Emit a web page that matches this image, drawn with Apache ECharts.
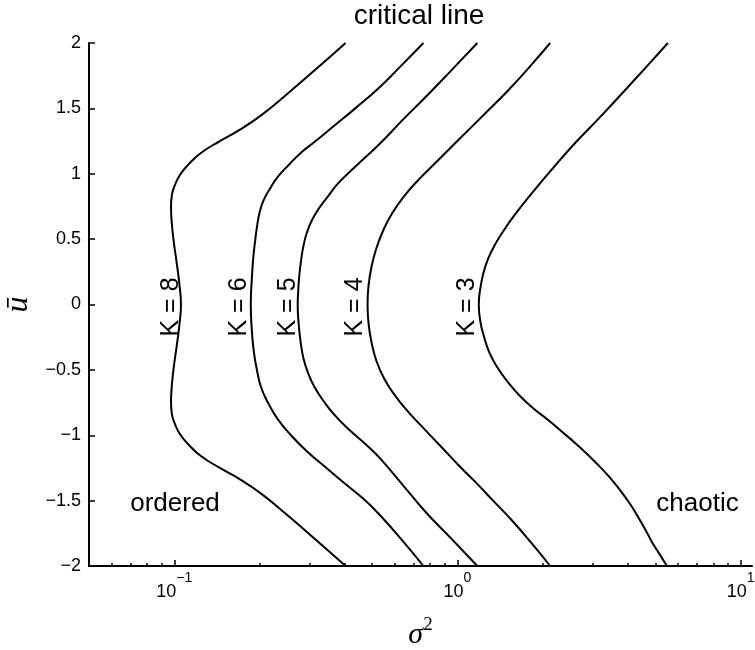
<!DOCTYPE html>
<html>
<head>
<meta charset="utf-8">
<script src="https://cdn.jsdelivr.net/npm/echarts@6/dist/echarts.min.js"></script>
<style>
  html, body { margin: 0; padding: 0; background: #fff; }
  #chart { width: 755px; height: 650px; }
</style>
</head>
<body>
<div id="chart"></div>
<script>
// Critical lines [sigma^2, u-bar] for each connectivity K, from u = 2 down to u = -2
const curveK8 = [
  [0.4027, 2.0], [0.3131, 1.791], [0.2475, 1.601], [0.2053, 1.456], [0.1718, 1.341],
  [0.1449, 1.250], [0.1242, 1.159], [0.1118, 1.067], [0.1047, 0.991], [0.1006, 0.915],
  [0.0981, 0.838], [0.0974, 0.747], [0.0978, 0.648], [0.0994, 0.495], [0.1022, 0.305],
  [0.1043, 0.152], [0.1056, 0],
  [0.1043, -0.152], [0.1022, -0.305], [0.0994, -0.495], [0.0978, -0.648], [0.0974, -0.747],
  [0.0981, -0.838], [0.1006, -0.915], [0.1047, -0.991], [0.1118, -1.067], [0.1242, -1.159],
  [0.1449, -1.250], [0.1718, -1.341], [0.2053, -1.456], [0.2475, -1.601], [0.3131, -1.791],
  [0.4027, -2.0]
];
const curveK6 = [
  [0.758, 2.0], [0.6342, 1.829], [0.5263, 1.654], [0.4366, 1.502], [0.3624, 1.357],
  [0.3157, 1.250], [0.2795, 1.159], [0.2536, 1.067], [0.2319, 0.976], [0.2174, 0.884],
  [0.2070, 0.800], [0.2004, 0.709], [0.1964, 0.610], [0.1932, 0.495], [0.1901, 0.358],
  [0.1878, 0.191], [0.1863, 0],
  [0.1878, -0.191], [0.1909, -0.358], [0.1956, -0.495], [0.2020, -0.625], [0.2138, -0.747],
  [0.2319, -0.877], [0.2598, -1.006], [0.2958, -1.128], [0.3479, -1.258], [0.4093, -1.387],
  [0.4697, -1.494], [0.5349, -1.616], [0.6393, -1.806], [0.758, -2.0]
];
const curveK5 = [
  [1.175, 2.0], [0.9513, 1.791], [0.7703, 1.585], [0.6393, 1.410], [0.5349, 1.235],
  [0.4697, 1.120], [0.4194, 1.021], [0.3773, 0.922], [0.3479, 0.823], [0.3235, 0.732],
  [0.3068, 0.648], [0.2946, 0.556], [0.2864, 0.457], [0.2806, 0.343], [0.2761, 0.213],
  [0.2739, 0.099], [0.2728, 0],
  [0.2750, -0.152], [0.2795, -0.290], [0.2864, -0.419], [0.2982, -0.534], [0.3131, -0.633],
  [0.3368, -0.739], [0.3713, -0.854], [0.4194, -0.968], [0.4813, -1.082], [0.5349, -1.181],
  [0.6445, -1.387], [0.7703, -1.585], [0.9513, -1.791], [1.175, -2.0]
];
const curveK4 = [
  [2.124, 2.0], [1.791, 1.814], [1.511, 1.639], [1.234, 1.448], [1.007, 1.258],
  [0.856, 1.105], [0.7279, 0.953], [0.6497, 0.831], [0.5894, 0.701], [0.5481, 0.572],
  [0.5178, 0.434], [0.4972, 0.290], [0.4852, 0.145], [0.4813, 0],
  [0.4852, -0.145], [0.4972, -0.290], [0.5178, -0.434], [0.5525, -0.572], [0.6040, -0.701],
  [0.6711, -0.823], [0.7641, -0.953], [0.8772, -1.090], [1.007, -1.227], [1.156, -1.357],
  [1.338, -1.502], [1.561, -1.654], [1.820, -1.822], [2.124, -2.0]
];
const curveK3 = [
  [5.532, 2.0], [4.627, 1.814], [3.902, 1.639], [3.187, 1.433], [2.602, 1.235],
  [2.176, 1.044], [1.835, 0.854], [1.612, 0.701], [1.439, 0.549], [1.327, 0.419],
  [1.253, 0.290], [1.209, 0.145], [1.189, 0],
  [1.204, -0.130], [1.243, -0.252], [1.295, -0.366], [1.382, -0.480], [1.498, -0.587],
  [1.652, -0.694], [1.850, -0.793], [2.090, -0.884], [2.322, -0.968], [2.602, -1.059],
  [2.891, -1.151], [3.187, -1.242], [3.483, -1.334], [3.777, -1.429], [4.063, -1.524],
  [4.336, -1.623], [4.627, -1.730], [4.898, -1.829], [5.183, -1.913], [5.488, -2.0]
];
const curves = [curveK8, curveK6, curveK5, curveK4, curveK3];
const curveNames = ['K = 8', 'K = 6', 'K = 5', 'K = 4', 'K = 3'];

// Axes
const sigmaMin = 0.05;
const sigmaMax = 10.96;
const majorTicks = [0.1, 1, 10];
const minorTicks = [0.06, 0.07, 0.08, 0.09, 0.2, 0.3, 0.4, 0.5, 0.6, 0.7, 0.8, 0.9,
                    2, 3, 4, 5, 6, 7, 8, 9];
const uMin = -2, uMax = 2, uStep = 0.5;

const SANS = '"Liberation Sans", Arial, Helvetica, sans-serif';
const SERIF = '"Liberation Serif", "Times New Roman", serif';
const lg = Math.log10;
const fmtMinus = s => s.replace('-', '\u2212');

const chart = echarts.init(document.getElementById('chart'), null, { renderer: 'canvas' });

// positions of the K annotations, beside each curve's turning point
const kLabelPos = [[171, 307], [239, 307], [288, 307], [355, 307], [467, 307]];

const option = {
  backgroundColor: '#fff',
  animation: false,
  grid: { left: 89, right: 3, top: 43, bottom: 84, outerBoundsMode: 'none' },
  xAxis: [
    {
      type: 'value',
      min: lg(sigmaMin),
      max: lg(sigmaMax),
      position: 'bottom',
      splitLine: { show: false },
      axisLine: { onZero: false, lineStyle: { color: '#000', width: 2 } },
      axisTick: { inside: true, length: 6, customValues: majorTicks.map(lg),
                  lineStyle: { color: '#000', width: 1.5 } },
      axisLabel: {
        customValues: majorTicks.map(lg),
        margin: 5,
        formatter: v => '{b|10}{s|' + fmtMinus(String(Math.round(v))) + '}',
        rich: {
          b: { fontFamily: SANS, fontSize: 18, color: '#000', lineHeight: 30, verticalAlign: 'bottom' },
          s: { fontFamily: SANS, fontSize: 14, color: '#000', lineHeight: 14, verticalAlign: 'top' }
        }
      },
      name: '{i|\u03c3}{p|2}',
      nameLocation: 'middle',
      nameGap: 50,
      nameTextStyle: {
        rich: {
          i: { fontFamily: SERIF, fontStyle: 'italic', fontSize: 30, color: '#000', lineHeight: 34, verticalAlign: 'bottom' },
          p: { fontFamily: SERIF, fontSize: 19, color: '#000', lineHeight: 18, verticalAlign: 'top' }
        }
      }
    },
    {
      type: 'value',
      min: lg(sigmaMin),
      max: lg(sigmaMax),
      position: 'bottom',
      splitLine: { show: false },
      axisLine: { show: false, onZero: false },
      axisTick: { inside: true, length: 3, customValues: minorTicks.map(lg),
                  lineStyle: { color: '#000', width: 1.5 } },
      axisLabel: { show: false }
    }
  ],
  yAxis: {
    type: 'value',
    min: uMin,
    max: uMax,
    interval: uStep,
    splitLine: { show: false },
    axisLine: { onZero: false, lineStyle: { color: '#000', width: 2 } },
    axisTick: { inside: true, length: 6, lineStyle: { color: '#000', width: 1.5 } },
    axisLabel: {
      margin: 8,
      fontFamily: SANS,
      fontSize: 18,
      color: '#000',
      formatter: v => fmtMinus(String(v))
    },
    name: '\u016b',
    nameLocation: 'middle',
    nameRotate: 90,
    nameGap: 49,
    nameTextStyle: { fontFamily: SERIF, fontStyle: 'italic', fontSize: 32, color: '#000' }
  },
  series: curves.map((c, i) => ({
    name: curveNames[i],
    type: 'line',
    xAxisIndex: 0,
    data: c.map(([s, u]) => [lg(s), u]),
    smooth: 0.5,
    showSymbol: false,
    silent: true,
    lineStyle: { color: '#000', width: 2 }
  })),
  graphic: [
    { type: 'text', x: 419, y: 16.5,
      style: { text: 'critical line', font: '28px ' + SANS, fill: '#000', align: 'center', verticalAlign: 'middle' } },
    { type: 'text', x: 175, y: 504,
      style: { text: 'ordered', font: '26px ' + SANS, fill: '#000', align: 'center', verticalAlign: 'middle' } },
    { type: 'text', x: 697.5, y: 504,
      style: { text: 'chaotic', font: '26px ' + SANS, fill: '#000', align: 'center', verticalAlign: 'middle' } }
  ].concat(curveNames.map((n, i) => ({
    type: 'text', x: kLabelPos[i][0], y: kLabelPos[i][1], rotation: Math.PI / 2,
    style: { text: n, font: '25px ' + SANS, fill: '#000', align: 'center', verticalAlign: 'middle' }
  })))
};

chart.setOption(option);
</script>
</body>
</html>
